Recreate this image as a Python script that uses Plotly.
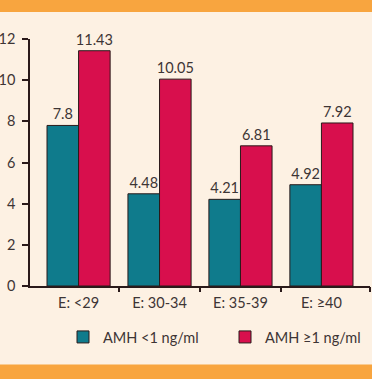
import plotly.graph_objects as go

categories = ["E: <29", "E: 30-34", "E: 35-39", "E: \u226540"]
amh_low = [7.8, 4.48, 4.21, 4.92]
amh_high = [11.43, 10.05, 6.81, 7.92]
series_names = ["AMH <1 ng/ml", "AMH \u22651 ng/ml"]
y_ticks = [0, 2, 4, 6, 8, 10, 12]

TEAL = "#0f7b8c"
CRIMSON = "#d80f4d"
BG = "#fdf1e3"
ORANGE = "#f8a53f"
INK = "#3d3535"
FONT = "Lato"

W, H = 372, 379
L, R, T, B = 30, 2, 39, 93
plot_w = W - L - R
plot_h = H - T - B

def py(p):
    # pixel row -> paper y
    return (H - B - p) / plot_h

fig = go.Figure()
for name, vals, col in [(series_names[0], amh_low, TEAL), (series_names[1], amh_high, CRIMSON)]:
    fig.add_trace(go.Bar(
        x=categories, y=vals, name=name,
        marker=dict(color=col, line=dict(color="#2a1a1a", width=1)),
        text=[f"{v:g}" for v in vals], textposition="outside",
        textfont=dict(family=FONT, size=14.5, color=INK),
        constraintext="none", cliponaxis=False,
    ))

# invisible helper trace on the boundary-tick axis
fig.add_trace(go.Scatter(x=[0], y=[0], xaxis="x2", mode="markers",
                         marker=dict(opacity=0), showlegend=False, hoverinfo="skip"))

fig.update_layout(
    width=W, height=H,
    margin=dict(l=L, r=R, t=T, b=B, autoexpand=False),
    paper_bgcolor=BG, plot_bgcolor=BG,
    barmode="group", bargap=0.22, bargroupgap=0,
    font=dict(family=FONT, size=14, color=INK),
    xaxis=dict(type="category", range=[-0.6, 3.6], showline=True, linecolor="#2a1a1a",
               linewidth=1.5, ticks="", showgrid=False, tickfont=dict(size=14.5, color=INK),
               ticklabelstandoff=3),
    xaxis2=dict(overlaying="x", range=[-0.6, 3.6], tickvals=[0.5, 1.5, 2.5, 3.6],
                showticklabels=False, ticks="outside", ticklen=5, tickwidth=1.5,
                tickcolor="#2a1a1a", showgrid=False, zeroline=False, side="bottom",
                anchor="y"),
    yaxis=dict(range=[0, 12], tickvals=y_ticks, showline=True, linecolor="#2a1a1a",
               linewidth=1.5, ticks="outside", ticklen=6, tickwidth=1.5,
               tickcolor="#2a1a1a", showgrid=False, zeroline=False,
               tickfont=dict(size=14.5, color=INK), ticklabelstandoff=4),
    legend=dict(orientation="h", x=(63 - L) / plot_w, xanchor="left",
                y=py(337), yanchor="middle", entrywidth=117, entrywidthmode="pixels",
                itemwidth=30, font=dict(size=14.5, color=INK), bgcolor="rgba(0,0,0,0)"),
    shapes=[
        dict(type="rect", xref="paper", yref="paper", x0=-0.2, x1=1.2,
             y0=py(12), y1=py(-5), fillcolor=ORANGE, line=dict(width=0), layer="above"),
        dict(type="rect", xref="paper", yref="paper", x0=-0.2, x1=1.2,
             y0=py(385), y1=py(364.5), fillcolor=ORANGE, line=dict(width=0), layer="above"),
    ],
)

fig.write_html("out.html", config={"displayModeBar": False},
               post_script="document.body.style.margin='0';")
